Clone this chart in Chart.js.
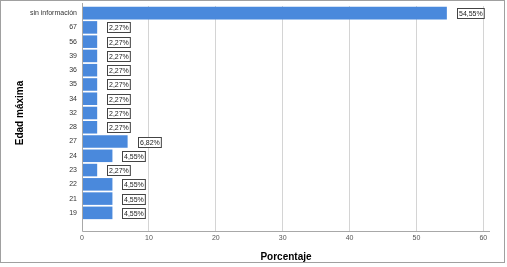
<!DOCTYPE html>
<html>
<head>
<meta charset="utf-8">
<script src="https://cdn.jsdelivr.net/npm/chart.js@4"></script>
<style>
html,body{margin:0;padding:0;background:#fff;}
#wrap{width:507px;height:267px;position:relative;}
</style>
</head>
<body>
<div id="wrap"><canvas id="c" width="507" height="267"></canvas></div>
<script>
const categories = ["sin información","67","56","39","36","35","34","32","28","27","24","23","22","21","19"];
const percentages = [54.55,2.27,2.27,2.27,2.27,2.27,2.27,2.27,2.27,6.82,4.55,2.27,4.55,4.55,4.55];
const xTicks = [0,10,20,30,40,50,60];

const fontFam = "'Liberation Sans', Arial, sans-serif";

const extras = {
  id: 'extras',
  beforeDraw(chart) {
    const ctx = chart.ctx;
    ctx.save();
    ctx.fillStyle = '#fff';
    ctx.fillRect(0, 0, chart.width, chart.height);
    ctx.restore();
  },
  afterDatasetsDraw(chart) {
    const ctx = chart.ctx;
    const meta = chart.getDatasetMeta(0);
    ctx.save();
    ctx.font = '7px ' + fontFam;
    ctx.textBaseline = 'middle';
    ctx.textAlign = 'left';
    meta.data.forEach((bar, i) => {
      const txt = percentages[i].toFixed(2).replace('.', ',') + '%';
      const w = ctx.measureText(txt).width;
      const bx = Math.round(bar.x + 10) + 0.5;
      const by = Math.round(bar.y - 5) + 0.5;
      ctx.fillStyle = '#fff';
      ctx.fillRect(bx, by, w + 3, 10);
      ctx.strokeStyle = '#444';
      ctx.lineWidth = 1;
      ctx.strokeRect(bx, by, w + 3, 10);
      ctx.fillStyle = '#222';
      ctx.fillText(txt, bx + 1.5, by + 5.5);
    });
    const ca = chart.chartArea;
    const bottom = ca.bottom + 11;
    ctx.strokeStyle = '#a8a8a8';
    ctx.beginPath();
    ctx.moveTo(Math.round(ca.left) + 0.5, 3);
    ctx.lineTo(Math.round(ca.left) + 0.5, bottom + 0.5);
    ctx.lineTo(Math.round(ca.right), bottom + 0.5);
    ctx.stroke();
    ctx.strokeStyle = '#a0a0a0';
    ctx.strokeRect(0.5, 0.5, 504, 262);
    ctx.restore();
  }
};

new Chart(document.getElementById('c'), {
  type: 'bar',
  data: {
    labels: categories,
    datasets: [{
      data: percentages,
      backgroundColor: '#4a89dc',
      borderWidth: 0,
      barPercentage: 0.88,
      categoryPercentage: 1.0
    }]
  },
  options: {
    indexAxis: 'y',
    responsive: false,
    animation: false,
    layout: { padding: { top: 6, right: 17, left: 0, bottom: 0 } },
    plugins: { legend: { display: false }, tooltip: { enabled: false } },
    scales: {
      x: {
        type: 'linear',
        min: 0,
        max: 61,
        afterBuildTicks: s => { s.ticks = xTicks.map(v => ({ value: v })); },
        afterFit: s => { s.height = 47; s.paddingLeft = 0; s.paddingRight = 0; },
        grid: { color: '#d4d4d4', tickLength: 11, drawTicks: true },
        border: { display: false },
        ticks: { color: '#555', font: { family: fontFam, size: 7 }, padding: 3, maxRotation: 0 },
        title: { display: true, text: 'Porcentaje', color: '#000', font: { family: fontFam, size: 10, weight: 'bold' }, padding: { top: 0, bottom: 4 } }
      },
      y: {
        type: 'category',
        afterFit: s => { s.width = 82; s.paddingTop = 0; s.paddingBottom = 0; },
        grid: { display: false, drawTicks: false },
        border: { display: false },
        ticks: { color: '#333', font: { family: fontFam, size: 7 }, padding: 5, autoSkip: false },
        title: { display: true, text: 'Edad máxima', color: '#000', font: { family: fontFam, size: 10, weight: 'bold' }, padding: { top: 14, bottom: 0 } }
      }
    }
  },
  plugins: [extras]
});
</script>
</body>
</html>
